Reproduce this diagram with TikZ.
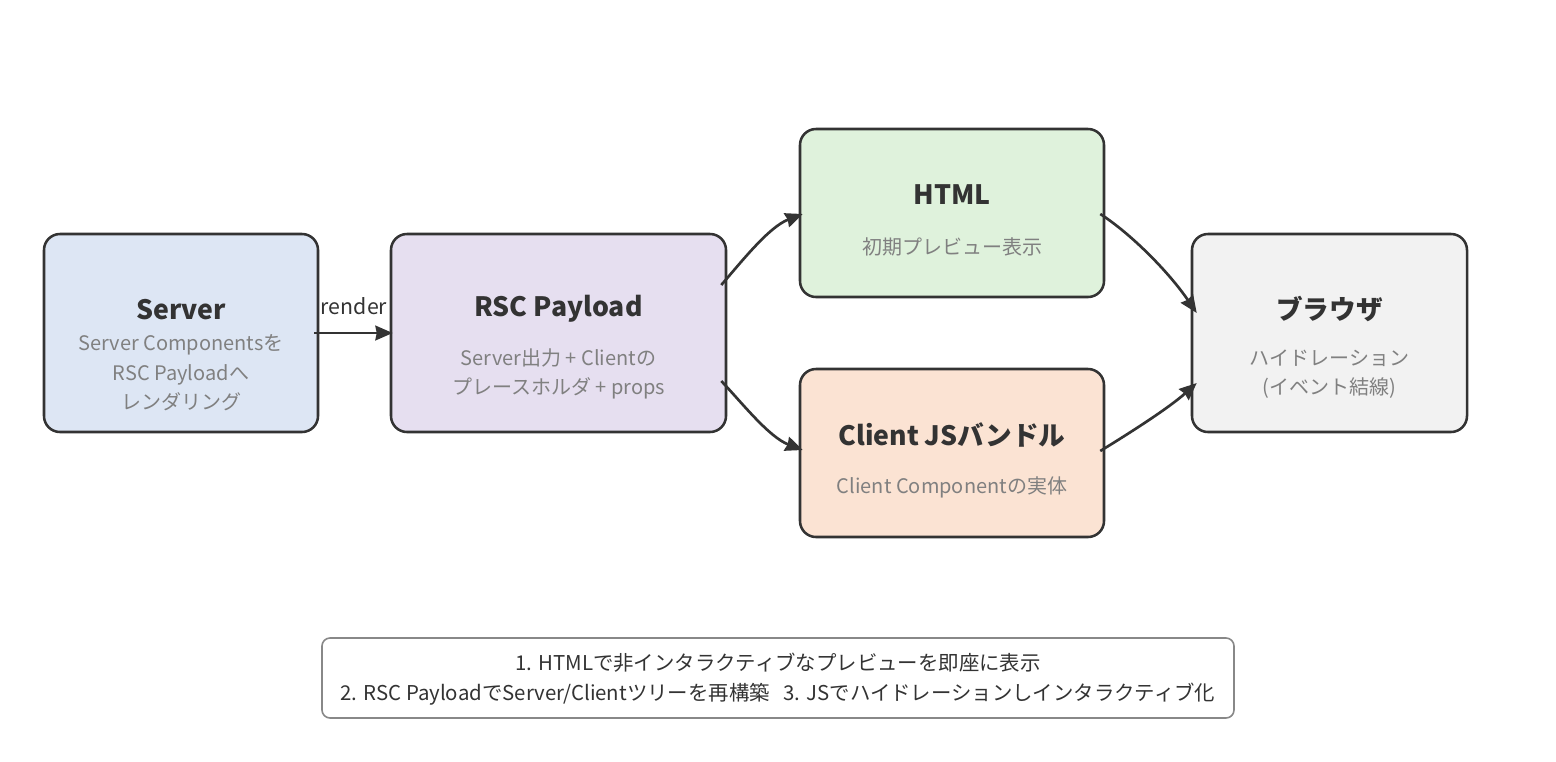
\documentclass[tikz,border=0pt]{standalone}
\usepackage{fontspec}
\setmainfont{Noto Sans CJK JP}
\usetikzlibrary{arrows.meta,calc}
\definecolor{ink}{HTML}{333333}
\definecolor{subgray}{HTML}{808080}
\definecolor{notegray}{HTML}{888888}
\definecolor{srvfill}{HTML}{DDE6F4}
\definecolor{rscfill}{HTML}{E6DFF0}
\definecolor{htmlfill}{HTML}{DFF2DC}
\definecolor{jsfill}{HTML}{FBE3D3}
\definecolor{brfill}{HTML}{F2F2F2}
\begin{document}
\begin{tikzpicture}[x=0.75pt,y=-0.75pt,
  box/.style={draw=ink,line width=1.9pt,rounded corners=12pt,inner sep=0pt},
  ttl/.style={font=\bfseries\fontsize{20}{22}\selectfont,text=ink,inner sep=0pt},
  sub/.style={font=\fontsize{15}{22}\selectfont,text=subgray,align=center,inner sep=0pt},
  conn/.style={draw=ink,line width=2pt,-{Stealth[inset=1pt,length=13pt,width=11pt]}},
  notebox/.style={draw=notegray,line width=1.2pt,rounded corners=6pt,fill=white,inner sep=0pt}
]
\fill[white] (0,0) rectangle (1556,761);
\useasboundingbox (0,0) rectangle (1556,761);

% boxes
\node[box,fill=srvfill,minimum width=205.5pt,minimum height=148.5pt] (server) at (181,333) {};
\node[box,fill=rscfill,minimum width=251.25pt,minimum height=148.5pt] (rsc) at (558.5,333) {};
\node[box,fill=htmlfill,minimum width=228pt,minimum height=126pt] (html) at (952,213) {};
\node[box,fill=jsfill,minimum width=228pt,minimum height=126pt] (js) at (952,453) {};
\node[box,fill=brfill,minimum width=206.25pt,minimum height=148.5pt] (br) at (1329.5,333) {};

% texts
\node[ttl] (servert) at (181,310) {Server};
\node[sub] (servers) at (181,373) {Server Componentsを\\RSC Payloadへ\\レンダリング};
\node[ttl] (rsct) at (558.5,309) {RSC Payload};
\node[sub] (rscs) at (558.5,374) {Server出力 + Clientの\\プレースホルダ + props};
\node[ttl] (htmlt) at (952,195) {HTML};
\node[sub] (htmls) at (952,247) {初期プレビュー表示};
\node[ttl] (jst) at (952,435) {Client JSバンドル};
\node[sub] (jss) at (952,487) {Client Componentの実体};
\node[ttl] (brt) at (1329.5,309) {ブラウザ};
\node[sub] (brs) at (1329.5,374) {ハイドレーション\\(イベント結線)};

% connectors
\draw[conn] ($(server.east)+(-5,0)$) -- ($(rsc.west)+(3,0)$);
\node[font=\fontsize{16}{18}\selectfont,text=ink,inner sep=0pt] (renderlbl) at (354,306) {render};
\draw[conn] ($(rsc.east)+(-6,-48)$) .. controls ($(rsc.east)+(14,-71)$) and ($(html.west)+(-30,14)$) .. ($(html.west)+(4,1)$);
\draw[conn] ($(rsc.east)+(-6,48)$) .. controls ($(rsc.east)+(14,69)$) and ($(js.west)+(-30,-16)$) .. ($(js.west)+(4,-3)$);
\draw[conn] ($(html.east)+(-5,1)$) .. controls ($(html.east)+(26,21)$) and ($(br.west)+(-22,-61)$) .. ($(br.west)+(6,-20)$);
\draw[conn] ($(js.east)+(-5,-2)$) .. controls ($(js.east)+(26,-21)$) and ($(br.west)+(-22,75)$) .. ($(br.west)+(6,50)$);

% note
\node[notebox,minimum width=684pt,minimum height=60pt] (note) at (778,678) {};
\node[font=\fontsize{15.3}{22.5}\selectfont,text=ink,align=center,inner sep=0pt] (notet) at (778,679) {1. HTMLで非インタラクティブなプレビューを即座に表示\\2. RSC PayloadでServer/Clientツリーを再構築\ \ \ 3. JSでハイドレーションしインタラクティブ化};
\end{tikzpicture}
\end{document}
